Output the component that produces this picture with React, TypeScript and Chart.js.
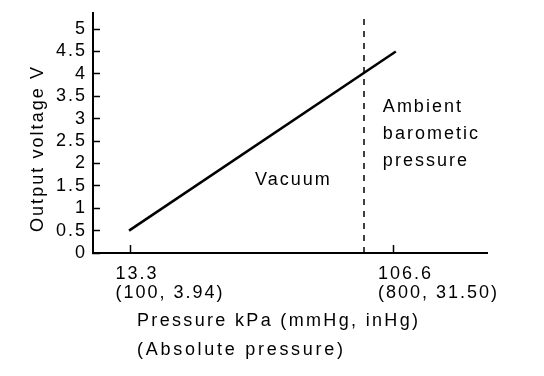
import { useEffect, useRef } from 'react';
import { Chart, registerables } from 'chart.js';

Chart.register(...registerables);

// ---- data ----
const lineX = [12.8, 107.6];
const lineY = [0.5, 4.5];
const ambientX = [96.3, 96.3];
const ambientY = [0, 5.36];
const yTicks = [0, 0.5, 1, 1.5, 2, 2.5, 3, 3.5, 4, 4.5, 5];
const yTickLabels = ['0', '0.5', '1', '1.5', '2', '2.5', '3', '3.5', '4', '4.5', '5'];
const xTicks = [13.3, 106.6];
const xTickLabels = [
  ['13.3', '(100, 3.94)'],
  ['106.6', '(800, 31.50)'],
];
const xTitle = ['Pressure kPa (mmHg, inHg)', '(Absolute pressure)'];
const yTitle = 'Output voltage V';
const vacuumLabel = ['Vacuum'];
const vacuumPos = [57.6, 1.52];
const ambientLabel = ['Ambient', 'barometic', 'pressure'];
const ambientLabelPos = [103, 3.16];

const FONT = "'Liberation Sans', Arial, sans-serif";
const SPACING = '2px';

function spacedText(ctx: any, text: string, x: number, y: number, target: number) {
  ctx.letterSpacing = '0px';
  const w0 = ctx.measureText(text).width;
  const n = Math.max(1, text.length - 1);
  const sp = Math.max(0, (target - w0) / n);
  ctx.letterSpacing = `${sp}px`;
  ctx.fillText(text, x, y);
  ctx.letterSpacing = SPACING;
}

const textPlugin = {
  id: 'texts',
  beforeUpdate(chart: any) {
    (chart.ctx as any).letterSpacing = SPACING;
  },
  beforeDraw(chart: any) {
    const ctx = chart.ctx;
    (ctx as any).letterSpacing = SPACING;
    ctx.save();
    ctx.fillStyle = '#ffffff';
    ctx.fillRect(0, 0, chart.width, chart.height);
    ctx.restore();
  },
  afterDraw(chart: any) {
    const ctx = chart.ctx;
    const xs = chart.scales.x;
    const ys = chart.scales.y;
    ctx.save();
    (ctx as any).letterSpacing = SPACING;
    ctx.fillStyle = '#000';
    ctx.font = `18px ${FONT}`;
    ctx.textBaseline = 'alphabetic';
    ctx.textAlign = 'left';
    vacuumLabel.forEach((t, i) => {
      ctx.fillText(t, xs.getPixelForValue(vacuumPos[0]), ys.getPixelForValue(vacuumPos[1]) + i * 27);
    });
    ambientLabel.forEach((t, i) => {
      ctx.fillText(t, xs.getPixelForValue(ambientLabelPos[0]), ys.getPixelForValue(ambientLabelPos[1]) + i * 27);
    });
    // x title
    ctx.textBaseline = 'middle';
    spacedText(ctx, xTitle[0], 137, 321, 281);
    spacedText(ctx, xTitle[1], 137, 350, 206);
    // y title
    ctx.translate(38, 148.5);
    ctx.rotate(-Math.PI / 2);
    ctx.textAlign = 'center';
    spacedText(ctx, yTitle, 0, 0, 165);
    ctx.restore();
  },
};

export default function App() {
  const ref = useRef<HTMLCanvasElement>(null);
  useEffect(() => {
    document.body.style.margin = '0';
    const canvas = ref.current!;
    Chart.defaults.font.family = FONT;
    Chart.defaults.font.size = 18;
    Chart.defaults.color = '#000';
    const chart = new Chart(canvas, {
      type: 'line',
      data: {
        datasets: [
          {
            data: lineX.map((x, i) => ({ x, y: lineY[i] })),
            borderColor: '#000',
            borderWidth: 2.5,
            pointRadius: 0,
            fill: false,
          },
          {
            data: ambientX.map((x, i) => ({ x, y: ambientY[i] })),
            borderColor: '#000',
            borderWidth: 1.5,
            borderDash: [6, 6],
            pointRadius: 0,
            fill: false,
          },
        ],
      },
      options: {
        responsive: false,
        animation: false,
        events: [],
        layout: { padding: { left: 0, right: 57, top: 13, bottom: 0 } },
        plugins: { legend: { display: false }, tooltip: { enabled: false }, title: { display: false } },
        scales: {
          x: {
            type: 'linear',
            min: 0,
            max: 140,
            afterBuildTicks: (s: any) => {
              s.ticks = xTicks.map((v) => ({ value: v }));
            },
            afterFit: (s: any) => {
              s.height = 123;
              s.paddingLeft = 0;
              s.paddingRight = 0;
            },
            ticks: {
              autoSkip: false,
              maxRotation: 0,
              align: 'start',
              labelOffset: -15,
              padding: 20,
              font: { size: 18, lineHeight: 1.05 },
              color: '#000',
              callback: (v: any) => {
                const i = xTicks.indexOf(Number(v));
                return i >= 0 ? xTickLabels[i] : '';
              },
            },
            grid: {
              display: true,
              drawOnChartArea: false,
              drawTicks: true,
              tickLength: -8,
              tickColor: '#000',
              tickWidth: 1.5,
            },
            border: { display: true, color: '#000', width: 2 },
          },
          y: {
            type: 'linear',
            min: 0,
            max: 5.36,
            afterBuildTicks: (s: any) => {
              s.ticks = yTicks.map((v) => ({ value: v }));
            },
            afterFit: (s: any) => {
              s.width = 93;
              s.paddingTop = 0;
              s.paddingBottom = 0;
            },
            ticks: {
              autoSkip: false,
              padding: 13,
              font: { size: 18 },
              color: '#000',
              callback: (v: any) => {
                const i = yTicks.indexOf(Number(v));
                return i >= 0 ? yTickLabels[i] : '';
              },
            },
            grid: {
              display: true,
              drawOnChartArea: false,
              drawTicks: true,
              tickLength: -7,
              tickColor: '#000',
              tickWidth: 1.5,
            },
            border: { display: true, color: '#000', width: 2 },
          },
        },
      },
      plugins: [textPlugin],
    } as any);
    return () => chart.destroy();
  }, []);
  return <canvas ref={ref} width={544} height={376} style={{ display: 'block' }} />;
}
